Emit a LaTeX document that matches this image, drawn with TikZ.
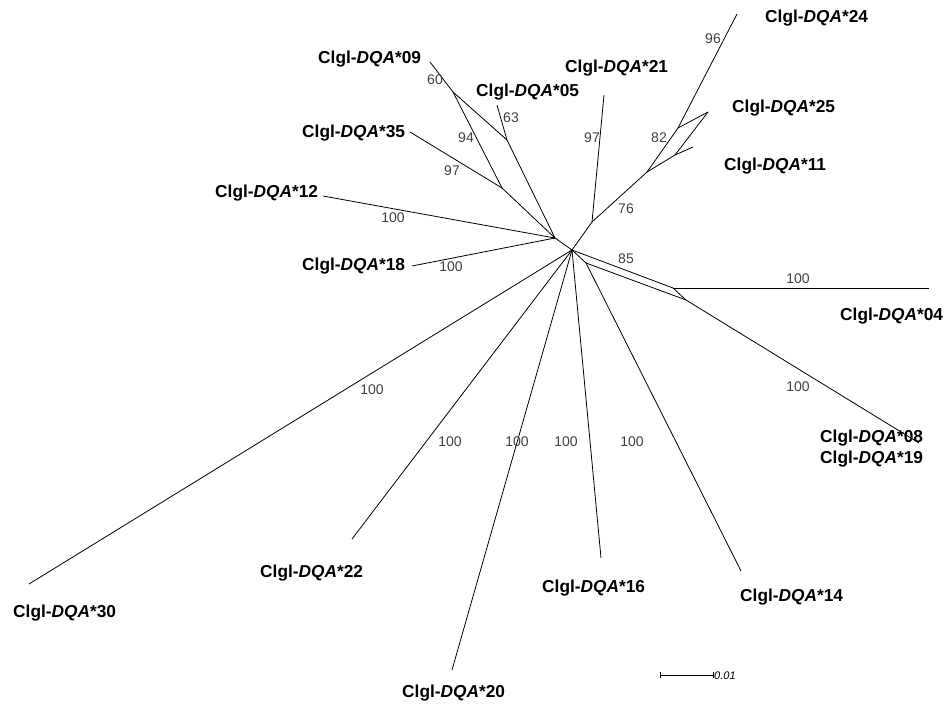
\documentclass[tikz,border=0pt]{standalone}
\usepackage{fontspec}
\setmainfont{Liberation Sans}
\begin{document}
\begin{tikzpicture}[x=1pt,y=-1pt,
  edge/.style={draw=black,line width=0.8pt},
  taxon/.style={anchor=base west,inner sep=0pt,font=\fontsize{17.3}{20}\selectfont\bfseries},
  boot/.style={anchor=center,inner sep=0pt,text=black!75,font=\fontsize{14}{16}\selectfont},
  pt/.style={inner sep=0pt,minimum size=0pt}]
\useasboundingbox (0,0) rectangle (952,704);
% internal nodes
\coordinate (H) at (572,250);
\coordinate (L) at (555,238);
\coordinate (A) at (502,188);
\coordinate (X) at (453,92);
\coordinate (B) at (507,140);
\coordinate (R1) at (592,222);
\coordinate (R2) at (647,172);
\coordinate (R3) at (678,128);
\coordinate (R4) at (675,155);
\coordinate (P1) at (673,288);
\coordinate (Q0) at (586,263);
\coordinate (Q1) at (686,300);
% tips
\coordinate (t12) at (323,196);
\coordinate (t18) at (412,266);
\coordinate (t35) at (410,132);
\coordinate (t09) at (430,62);
\coordinate (t05) at (497,105);
\coordinate (t21) at (604,95);
\coordinate (t24) at (737,14);
\coordinate (t25) at (708,112);
\coordinate (t11) at (693,147);
\coordinate (t04) at (929,288);
\coordinate (t08) at (919,443);
\coordinate (t14) at (741,571);
\coordinate (t16) at (601,558);
\coordinate (t20) at (452,670);
\coordinate (t22) at (352,539);
\coordinate (t30) at (29,584);
% edges
\draw[edge] (H) -- (L);
\draw[edge] (L) -- (t12);
\draw[edge] (L) -- (t18);
\draw[edge] (L) -- (A);
\draw[edge] (A) -- (t35);
\draw[edge] (A) -- (X);
\draw[edge] (X) -- (t09);
\draw[edge] (X) -- (B);
\draw[edge] (B) -- (t05);
\draw[edge] (B) -- (L);
\draw[edge] (H) -- (R1);
\draw[edge] (R1) -- (t21);
\draw[edge] (R1) -- (R2);
\draw[edge] (R2) -- (R3);
\draw[edge] (R3) -- (t24);
\draw[edge] (R3) -- (t25);
\draw[edge] (t25) -- (R4);
\draw[edge] (R4) -- (R2);
\draw[edge] (R4) -- (t11);
\draw[edge] (H) -- (P1);
\draw[edge] (P1) -- (t04);
\draw[edge] (H) -- (Q0);
\draw[edge] (Q0) -- (Q1);
\draw[edge] (P1) -- (Q1);
\draw[edge] (Q1) -- (t08);
\draw[edge] (Q0) -- (t14);
\draw[edge] (H) -- (t16);
\draw[edge] (H) -- (t20);
\draw[edge] (H) -- (t22);
\draw[edge] (H) -- (t30);
% taxon labels
\node[taxon] (n24) at (765,22) {Clgl-\textit{DQA}*24};
\node[taxon] (n25) at (732,112) {Clgl-\textit{DQA}*25};
\node[taxon] (n11) at (724,170) {Clgl-\textit{DQA}*11};
\node[taxon] (n09) at (318,63) {Clgl-\textit{DQA}*09};
\node[taxon] (n21) at (565,72) {Clgl-\textit{DQA}*21};
\node[taxon] (n05) at (476,96) {Clgl-\textit{DQA}*05};
\node[taxon] (n35) at (302,137) {Clgl-\textit{DQA}*35};
\node[taxon] (n12) at (215,197) {Clgl-\textit{DQA}*12};
\node[taxon] (n18) at (302,270) {Clgl-\textit{DQA}*18};
\node[taxon] (n04) at (840,320) {Clgl-\textit{DQA}*04};
\node[taxon] (n08) at (820,442) {Clgl-\textit{DQA}*08};
\node[taxon] (n19) at (820,463) {Clgl-\textit{DQA}*19};
\node[taxon] (n30) at (13,617) {Clgl-\textit{DQA}*30};
\node[taxon] (n22) at (260,577) {Clgl-\textit{DQA}*22};
\node[taxon] (n16) at (542,592) {Clgl-\textit{DQA}*16};
\node[taxon] (n14) at (740,601) {Clgl-\textit{DQA}*14};
\node[taxon] (n20) at (402,697) {Clgl-\textit{DQA}*20};
% bootstrap values
\node[boot] (b60) at (435,80) {60};
\node[boot] (b63) at (511,118) {63};
\node[boot] (b94) at (466,138) {94};
\node[boot] (b97a) at (452,171) {97};
\node[boot] (b97b) at (592,138) {97};
\node[boot] (b82) at (659,138) {82};
\node[boot] (b96) at (713,39) {96};
\node[boot] (b76) at (626,209) {76};
\node[boot] (b85) at (626,259) {85};
\node[boot] (b12) at (393,218) {100};
\node[boot] (b18) at (451,267) {100};
\node[boot] (b04) at (798,279) {100};
\node[boot] (b08) at (798,387) {100};
\node[boot] (b30) at (372,390) {100};
\node[boot] (b22) at (450,442) {100};
\node[boot] (b20) at (517,442) {100};
\node[boot] (b16) at (566,442) {100};
\node[boot] (b14) at (632,442) {100};
% scale bar
\coordinate (s1) at (660,675);
\coordinate (s2) at (713,675);
\draw[edge] (s1) -- (s2);
\draw[edge] ([yshift=-3pt]s1) -- ([yshift=3pt]s1);
\draw[edge] ([yshift=-3pt]s2) -- ([yshift=3pt]s2);
\node[anchor=west,inner sep=0pt,font=\fontsize{11}{13}\selectfont\itshape] (sc) at (714,676) {0.01};
\end{tikzpicture}
\end{document}
